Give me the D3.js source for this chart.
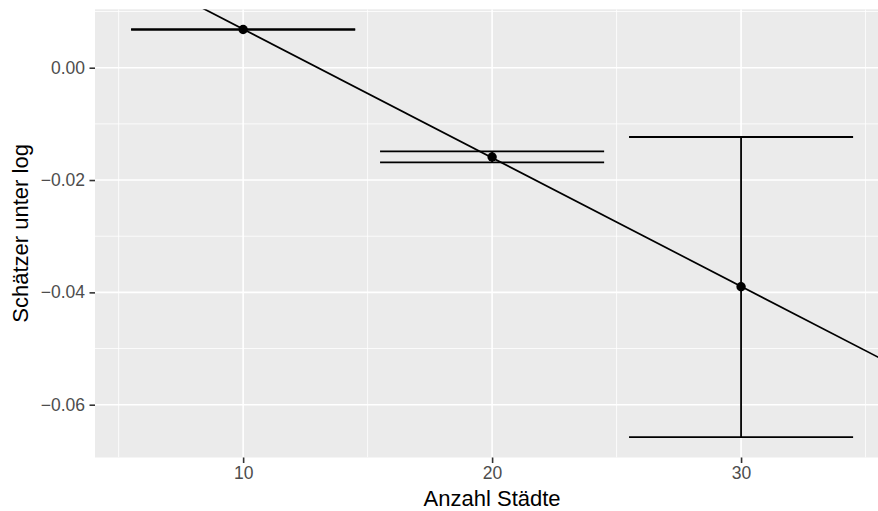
<!DOCTYPE html>
<html><head><meta charset="utf-8">
<script src="https://cdn.jsdelivr.net/npm/d3@7"></script>
<style>body{margin:0;background:#fff}svg{display:block}</style>
</head><body>
<script>
const cities = [10, 20, 30];
const estimates = [0.0068, -0.0159, -0.0390];
const lower = [0.0068, -0.01685, -0.06577];
const upper = [0.0068, -0.01489, -0.01234];
const lineIntercept = 0.02977;   // value at 0 cities
const lineSlope = -0.002290;
const xTicks = [10, 20, 30];
const xMinor = [5, 15, 25, 35];
const yTicks = [0, -0.02, -0.04, -0.06];
const yTickLabels = ["0.00", "\u22120.02", "\u22120.04", "\u22120.06"];
const yMinor = [0.01, -0.01, -0.03, -0.05];
const barHalfWidth = 4.5;

const W = 878, H = 511;
const L = 95, R = 889.2, T = 9.3, B = 457.5;
const FONT = "'Liberation Sans', Arial, sans-serif";
const svg = d3.select("body").append("svg").attr("width", W).attr("height", H);
const x = d3.scaleLinear().domain([4.05, 35.95]).range([L, R]);
const y = d3.scaleLinear().domain([-0.0694, 0.0104]).range([B, T]);

svg.append("defs").append("clipPath").attr("id","clip")
  .append("rect").attr("x",L).attr("y",T).attr("width",R-L).attr("height",B-T);

svg.append("rect").attr("x",L).attr("y",T).attr("width",R-L).attr("height",B-T).attr("fill","#EBEBEB");
const g = svg.append("g").attr("clip-path","url(#clip)");
g.selectAll(".vmin").data(xMinor).enter().append("line")
  .attr("x1",d=>x(d)).attr("x2",d=>x(d)).attr("y1",T).attr("y2",B)
  .attr("stroke","#fff").attr("stroke-width",0.8);
g.selectAll(".hmin").data(yMinor).enter().append("line")
  .attr("y1",d=>y(d)).attr("y2",d=>y(d)).attr("x1",L).attr("x2",R)
  .attr("stroke","#fff").attr("stroke-width",0.8);
g.selectAll(".vmaj").data(xTicks).enter().append("line")
  .attr("x1",d=>x(d)).attr("x2",d=>x(d)).attr("y1",T).attr("y2",B)
  .attr("stroke","#fff").attr("stroke-width",1.6);
g.selectAll(".hmaj").data(yTicks).enter().append("line")
  .attr("y1",d=>y(d)).attr("y2",d=>y(d)).attr("x1",L).attr("x2",R)
  .attr("stroke","#fff").attr("stroke-width",1.6);

const data = cities.map((c,i)=>({c, est:estimates[i], lo:lower[i], hi:upper[i]}));
const eb = g.selectAll(".eb").data(data).enter().append("g");
eb.append("line").attr("x1",d=>x(d.c)).attr("x2",d=>x(d.c)).attr("y1",d=>y(d.lo)).attr("y2",d=>y(d.hi))
  .attr("stroke","#000").attr("stroke-width",1.8);
eb.append("line").attr("x1",d=>x(d.c-barHalfWidth)).attr("x2",d=>x(d.c+barHalfWidth)).attr("y1",d=>y(d.lo)).attr("y2",d=>y(d.lo))
  .attr("stroke","#000").attr("stroke-width",1.8);
eb.append("line").attr("x1",d=>x(d.c-barHalfWidth)).attr("x2",d=>x(d.c+barHalfWidth)).attr("y1",d=>y(d.hi)).attr("y2",d=>y(d.hi))
  .attr("stroke","#000").attr("stroke-width",1.8);
const xd = x.domain();
g.append("line").attr("x1",x(xd[0])).attr("x2",x(xd[1]))
  .attr("y1",y(lineIntercept+lineSlope*xd[0])).attr("y2",y(lineIntercept+lineSlope*xd[1]))
  .attr("stroke","#000").attr("stroke-width",1.7);
g.selectAll(".pt").data(data).enter().append("circle")
  .attr("cx",d=>x(d.c)).attr("cy",d=>y(d.est)).attr("r",4.7).attr("fill","#000");

const xa = svg.append("g").attr("transform",`translate(0,${B})`)
  .call(d3.axisBottom(x).tickValues(xTicks).tickSize(5.5).tickPadding(3.5).tickFormat(d3.format("d")));
const ya = svg.append("g").attr("transform",`translate(${L},0)`)
  .call(d3.axisLeft(y).tickValues(yTicks).tickSize(5.5).tickPadding(4.5).tickFormat((d,i)=>yTickLabels[i]));
[xa,ya].forEach(a=>{
  a.attr("font-size", 17.5).attr("font-family", FONT);
  a.select(".domain").remove();
  a.selectAll(".tick line").attr("stroke","#333").attr("stroke-width",1.6);
  a.selectAll(".tick text").attr("fill","#4D4D4D").attr("font-size",17.5).attr("font-family",FONT);
});

svg.append("text").attr("x",(L+R)/2).attr("y",505.5).attr("text-anchor","middle")
  .attr("font-family",FONT).attr("font-size",22).text("Anzahl Städte");
svg.append("text").attr("transform",`translate(28,${(T+B)/2}) rotate(-90)`).attr("text-anchor","middle")
  .attr("font-family",FONT).attr("font-size",22).text("Schätzer unter log");
</script>
</body></html>
